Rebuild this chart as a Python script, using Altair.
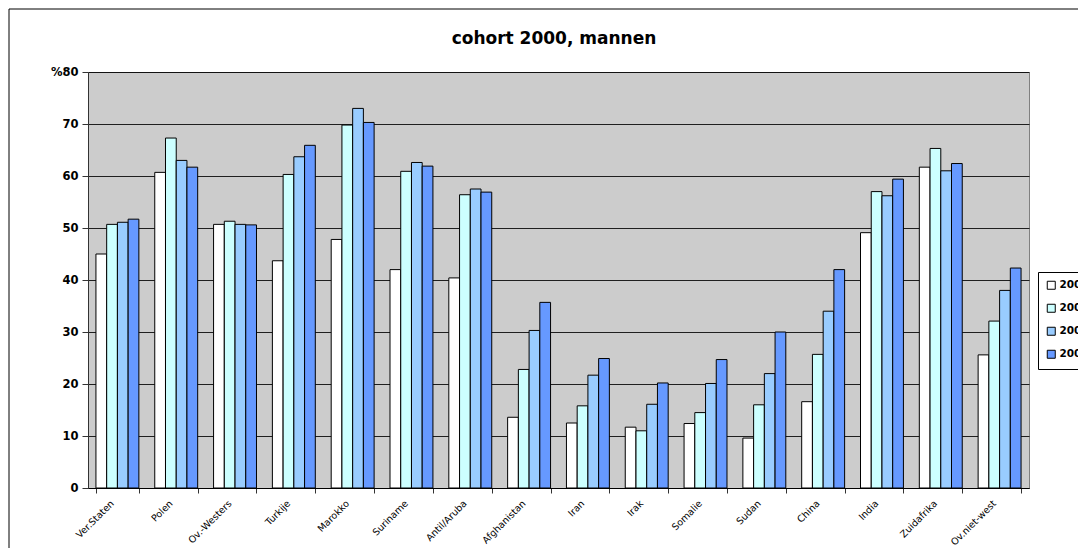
import altair as alt
import pandas as pd

countries = ["Ver.Staten", "Polen", "Ov.-Westers", "Turkije", "Marokko", "Suriname",
             "Antil/Aruba", "Afghanistan", "Iran", "Irak", "Somalie", "Sudan",
             "China", "India", "Zuidafrika", "Ov.niet-west"]
years = ["2000", "2001", "2002", "2003"]
v2000 = [45.0, 60.7, 50.7, 43.7, 47.8, 42.0, 40.4, 13.6, 12.5, 11.7, 12.4, 9.6, 16.6, 49.1, 61.7, 25.6]
v2001 = [50.7, 67.3, 51.3, 60.3, 69.8, 60.9, 56.4, 22.8, 15.8, 11.0, 14.5, 16.0, 25.7, 57.0, 65.3, 32.1]
v2002 = [51.1, 63.0, 50.7, 63.7, 73.0, 62.6, 57.5, 30.3, 21.7, 16.1, 20.1, 22.0, 34.0, 56.2, 61.0, 38.0]
v2003 = [51.7, 61.7, 50.6, 65.9, 70.3, 61.9, 56.9, 35.7, 24.9, 20.2, 24.7, 30.0, 42.0, 59.4, 62.4, 42.3]
colors = ["#FFFFFF", "#CCFFFF", "#99CCFF", "#6699FF"]
title_text = "cohort 2000, mannen"

rows = []
for y, vals in zip(years, [v2000, v2001, v2002, v2003]):
    for c, v in zip(countries, vals):
        rows.append({"land": c, "jaar": y, "pct": v})
df = pd.DataFrame(rows)

FONT = "DejaVu Sans"

bars = alt.Chart(df).mark_bar(stroke="black", strokeWidth=1, opacity=1).encode(
    x=alt.X("land:N", sort=countries, title=None,
            scale=alt.Scale(paddingInner=0.27, paddingOuter=0.135),
            axis=alt.Axis(labelAngle=315, labelAlign="right", labelBaseline="top",
                          labelFontSize=9.5, labelFont=FONT, labelColor="black",
                          labelPadding=5, labelOffset=-9, tickBand="extent", tickSize=5,
                          tickColor="#333333", domainColor="black", grid=False,
                          labelOverlap=False)),
    xOffset=alt.XOffset("jaar:N", sort=years,
                        scale=alt.Scale(paddingInner=0, paddingOuter=0)),
    y=alt.Y("pct:Q", title=None,
            scale=alt.Scale(domain=[0, 80], nice=False),
            axis=alt.Axis(values=[0, 10, 20, 30, 40, 50, 60, 70, 80],
                          labelExpr="datum.value == 80 ? '%80' : datum.label",
                          labelFontSize=11.5, labelFontWeight="bold", labelFont=FONT,
                          labelColor="black", labelPadding=4, tickSize=6,
                          tickColor="#333333", domainColor="#333333",
                          grid=True, gridColor="#000000", gridWidth=1, gridOpacity=0.85)),
    fill=alt.Fill("jaar:N", sort=years,
                  scale=alt.Scale(domain=years, range=colors),
                  legend=alt.Legend(title=None, orient="none", legendX=950, legendY=200,
                                    fillColor="white", strokeColor="black", padding=8,
                                    symbolType="square", symbolSize=64,
                                    symbolStrokeColor="black", symbolStrokeWidth=1,
                                    labelFont=FONT, labelFontSize=10.5, labelFontWeight="bold",
                                    labelColor="black", rowPadding=10, labelOffset=3)),
)

frame = alt.Chart(alt.Data(values=[{"a": 1}])).mark_rect(
    fill="transparent", stroke="black", strokeWidth=1, clip=False
).encode(
    x=alt.value(-79), x2=alt.value(1200), y=alt.value(-63), y2=alt.value(700)
)

title = alt.Chart(alt.Data(values=[{"t": title_text}])).mark_text(
    font=FONT, fontSize=17, fontWeight="bold", color="black",
    align="center", baseline="alphabetic", clip=False
).encode(
    text="t:N", x=alt.value(466), y=alt.value(-28)
)

chart = alt.layer(frame, bars, title).properties(
    width=941, height=416,
    padding={"left": 80, "top": 64, "right": 49, "bottom": 60},
    autosize=alt.AutoSizeParams(type="none"),
    background="white",
).configure_view(
    fill="#CCCCCC", stroke="#808080", strokeWidth=1
)

chart.save("out.html", embed_options={"renderer": "svg", "actions": False})
